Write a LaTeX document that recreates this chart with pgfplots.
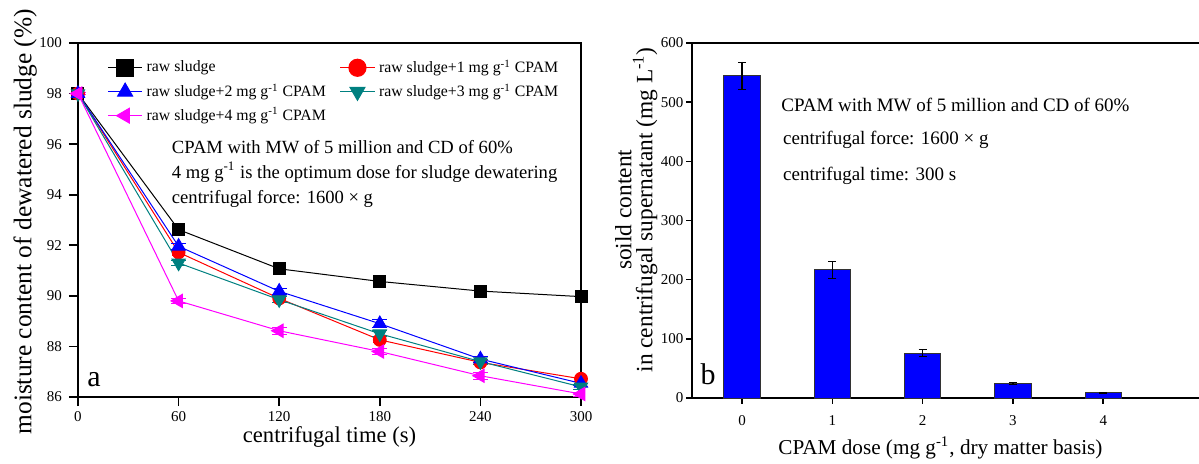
\documentclass[border=0pt]{standalone}
\usepackage{fontspec}
\setmainfont{Liberation Serif}
\usepackage{pgfplots}
\pgfplotsset{compat=1.18}
\definecolor{myteal}{RGB}{0,128,128}
\definecolor{mymag}{RGB}{255,0,255}
\begin{document}
\begin{tikzpicture}
\useasboundingbox (0,0) rectangle (599.5pt,231.5pt);
% ---------------- (a) ----------------
\begin{axis}[
  at={(39pt,33pt)}, anchor=south west, scale only axis,
  width=251.5pt, height=177pt,
  xmin=0, xmax=300, ymin=86, ymax=100,
  xtick={0,60,...,300}, ytick={86,88,...,100},
  tick align=outside, tick pos=left, major tick length=4.5pt,
  axis line style={line width=1pt},
  tick style={line width=0.8pt, black},
  ticklabel style={font=\fontsize{7.5}{9}\selectfont},
  xticklabel style={yshift=1pt},
  /pgf/number format/assume math mode=true,
  xlabel={centrifugal time (s)},
  ylabel={moisture content of dewatered sludge (\%)},
  xlabel style={font=\fontsize{11.3}{13}\selectfont, at={(axis description cs:0.5,-0.113)}, anchor=center},
  ylabel style={font=\fontsize{12.7}{14}\selectfont, at={(axis description cs:-0.105,0.495)}, anchor=center},
  legend columns=2,
  legend cell align=left,
  legend image post style={mark size=4.3pt},
  legend style={at={(axis description cs:0.058,0.965)}, anchor=north west,
    draw=none, fill=none, inner sep=0pt,
    font=\fontsize{7.9}{9}\selectfont, row sep=0pt,
    /tikz/every even column/.append style={column sep=5pt}},
  every axis plot/.append style={line width=0.5pt},
  error bars/y dir=both, error bars/y explicit,
]
\addplot[black, mark=square*, mark size=3pt, mark options={solid, fill=black},
  error bars/error bar style={black, line width=0.5pt}] coordinates {
  (0,98.0) +- (0,0.05)
  (60,92.62) +- (0,0.15)
  (120,91.07) +- (0,0.22)
  (180,90.57) +- (0,0.08)
  (240,90.19) +- (0,0.08)
  (300,89.97) +- (0,0.1)
};
\addlegendentry{raw sludge}
\addplot[red, mark=*, mark size=3.2pt, mark options={solid, fill=red},
  error bars/error bar style={red, line width=0.5pt}] coordinates {
  (0,98.0) +- (0,0.05)
  (60,91.72) +- (0,0.12)
  (120,89.9) +- (0,0.15)
  (180,88.26) +- (0,0.12)
  (240,87.37) +- (0,0.1)
  (300,86.72) +- (0,0.08)
};
\addlegendentry{raw sludge+1 mg g\textsuperscript{-1} CPAM}
\addplot[blue, mark=triangle*, mark size=3.8pt, mark options={solid, fill=blue},
  error bars/error bar style={blue, line width=0.5pt}] coordinates {
  (0,98.0) +- (0,0.05)
  (60,91.96) +- (0,0.12)
  (120,90.18) +- (0,0.12)
  (180,88.9) +- (0,0.15)
  (240,87.5) +- (0,0.12)
  (300,86.54) +- (0,0.08)
};
\addlegendentry{raw sludge+2 mg g\textsuperscript{-1} CPAM}
\addplot[myteal, mark=triangle*, mark size=3.8pt, mark options={solid, fill=myteal, rotate=180},
  error bars/error bar style={myteal, line width=0.5pt}] coordinates {
  (0,98.0) +- (0,0.05)
  (60,91.3) +- (0,0.1)
  (120,89.85) +- (0,0.12)
  (180,88.5) +- (0,0.12)
  (240,87.4) +- (0,0.1)
  (300,86.4) +- (0,0.08)
};
\addlegendentry{raw sludge+3 mg g\textsuperscript{-1} CPAM}
\addplot[mymag, mark=triangle*, mark size=3.8pt, mark options={solid, fill=mymag, rotate=90},
  error bars/error bar style={mymag, line width=0.5pt}] coordinates {
  (0,98.0) +- (0,0.05)
  (60,89.8) +- (0,0.1)
  (120,88.62) +- (0,0.15)
  (180,87.8) +- (0,0.12)
  (240,86.84) +- (0,0.15)
  (300,86.12) +- (0,0.08)
};
\addlegendentry{raw sludge+4 mg g\textsuperscript{-1} CPAM}
\node[anchor=base west, inner sep=0pt, font=\fontsize{9.3}{11}\selectfont] at (axis description cs:0.186,0.689) {CPAM with MW of 5 million and CD of 60\%};
\node[anchor=base west, inner sep=0pt, font=\fontsize{9.3}{11}\selectfont] at (axis description cs:0.186,0.618) {4 mg g\textsuperscript{-1} is the optimum dose for sludge dewatering};
\node[anchor=base west, inner sep=0pt, font=\fontsize{9.3}{11}\selectfont] at (axis description cs:0.186,0.547) {centrifugal force: 1600 × g};
\node[anchor=base west, inner sep=0pt, font=\fontsize{15}{17}\selectfont] at (axis description cs:0.018,0.03) {a};
\end{axis}
% ---------------- (b) ----------------
\begin{axis}[
  at={(346pt,32.5pt)}, anchor=south west, scale only axis,
  width=253.5pt, height=177.5pt,
  xmin=-0.554, xmax=5.06, ymin=0, ymax=600,
  axis x line*=box, axis y line*=left,
  axis line style={line width=1pt, -},
  xtick={0,1,2,3,4}, ytick={0,100,...,600},
  tick align=outside, tick pos=left, major tick length=2.8pt,
  tick style={line width=0.8pt, black},
  ticklabel style={font=\fontsize{7.5}{9}\selectfont},
  yticklabel style={xshift=2pt},
  xticklabel style={yshift=-2.5pt},
  /pgf/number format/assume math mode=true,
  xlabel={CPAM dose (mg g\textsuperscript{-1}, dry matter basis)},
  ylabel={soild content\\in centrifugal supernatant (mg L\textsuperscript{-1})},
  xlabel style={font=\fontsize{10.6}{12}\selectfont, at={(axis description cs:0.49,-0.14)}, anchor=center},
  ylabel style={font=\fontsize{11.7}{10.5}\selectfont, at={(axis description cs:-0.11,0.53)}, anchor=center, align=center},
]
\addplot[ybar, bar width=0.4, fill=blue, draw=black!80, line width=0.5pt,
  error bars/.cd, y dir=both, y explicit,
  error bar style={black, line width=0.6pt}] coordinates {
  (0,545) +- (0,23)
  (1,217) +- (0,14)
  (2,76) +- (0,6)
  (3,24.5) +- (0,1.5)
  (4,9) +- (0,0.6)
};
\node[anchor=base west, inner sep=0pt, font=\fontsize{9.5}{11}\selectfont] at (axis description cs:0.1755,0.808) {CPAM with MW of 5 million and CD of 60\%};
\node[anchor=base west, inner sep=0pt, font=\fontsize{9.5}{11}\selectfont] at (axis description cs:0.179,0.713) {centrifugal force: 1600 × g};
\node[anchor=base west, inner sep=0pt, font=\fontsize{9.5}{11}\selectfont] at (axis description cs:0.179,0.614) {centrifugal time: 300 s};
\node[anchor=base west, inner sep=0pt, font=\fontsize{15}{17}\selectfont] at (axis description cs:0.016,0.037) {b};
\end{axis}
\end{tikzpicture}
\end{document}
